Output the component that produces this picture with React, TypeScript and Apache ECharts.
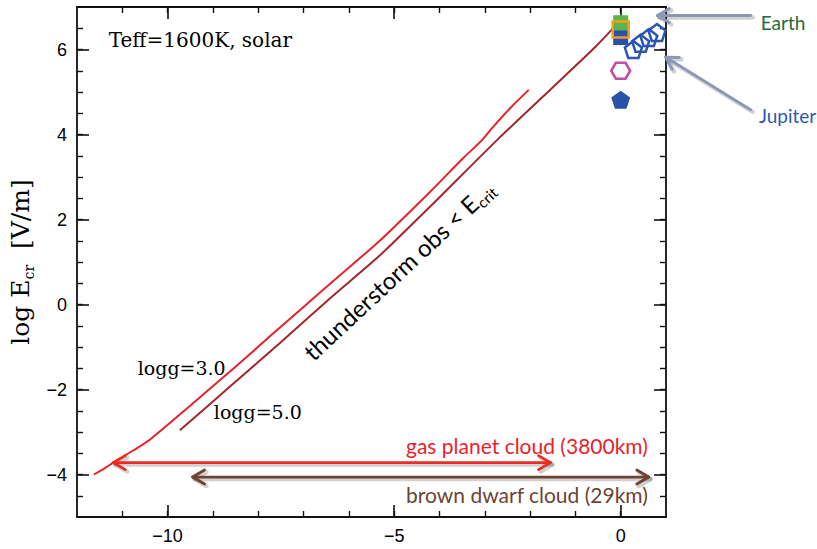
import React, { useEffect, useRef } from 'react';
import * as echarts from 'echarts';

// ---------- data ----------
const X_MIN = -12;
const X_MAX = 1;
const Y_MIN = -5;
const Y_MAX = 7;

const xMajorTicks = [-10, -5, 0];
const xMinorTicks = [-11, -10, -9, -8, -7, -6, -5, -4, -3, -2, -1, 0];
const yMajorTicks = [-4, -2, 0, 2, 4, 6];
const yMinorTicks = [-4.5, -4, -3.5, -3, -2.5, -2, -1.5, -1, -0.5, 0, 0.5, 1, 1.5, 2, 2.5, 3, 3.5, 4, 4.5, 5, 5.5, 6, 6.5];

// logg = 3.0 curve (bright red)
const logg3X = [-11.63, -11.4, -11.17, -10.75, -10.38, -9.49, -8.52, -7.68, -6.51, -5.30, -4.19, -3.49, -3.05, -2.83, -2.43, -2.03];
const logg3Y = [-4.0, -3.86, -3.7, -3.43, -3.17, -2.37, -1.48, -0.69, 0.4, 1.52, 2.67, 3.43, 3.88, 4.16, 4.63, 5.05];

// logg = 5.0 curve (dark red)
const logg5X = [-9.73, -8.61, -7.47, -6.4, -5.3, -4.19, -2.72, -1.32, -0.55, -0.15];
const logg5Y = [-2.96, -1.92, -0.86, 0.16, 1.17, 2.32, 3.88, 5.29, 6.07, 6.52];

// observed points
const earthBlueSquare = [[0, 6.28]];
const earthGreenSquare = [[0, 6.63]];
const earthOrangeSquare = [[0, 6.47]];
const jupiterPentagons = [[0.28, 6.0], [0.44, 6.15], [0.62, 6.28], [0.8, 6.4]];
const magentaHexagon = [[0, 5.5]];
const bluePentagon = [[0, 4.82]];

// cloud extents (x range, y level)
const gasCloudRange = [-11.2, -1.55];
const gasCloudLevel = -3.72;
const dwarfCloudRange = [-9.45, 0.62];
const dwarfCloudLevel = -4.06;

// ---------- styles ----------
const SERIF = '"DejaVu Serif", "Liberation Serif", serif';
const SANS = 'Lato, "Open Sans", sans-serif';
const NUM = '"Liberation Sans", Arial, sans-serif';
const INK = '#111';

const PENTAGON = 'path://M50,0 L98,35 L79,91 L21,91 L2,35 Z';
const HEXAGON = 'path://M0,50 L25,7 L75,7 L100,50 L75,93 L25,93 Z';

const minus = (v: number) => (v < 0 ? '\u2212' + Math.abs(v) : String(v));

function axisPair(kind: 'x' | 'y', position: string, showLabels: boolean, extra: any = {}) {
  const major = kind === 'x' ? xMajorTicks : yMajorTicks;
  const minor = kind === 'x' ? xMinorTicks : yMinorTicks;
  const base = {
    type: 'value',
    gridIndex: 0,
    min: kind === 'x' ? X_MIN : Y_MIN,
    max: kind === 'x' ? X_MAX : Y_MAX,
    position,
    splitLine: { show: false },
  };
  return [
    {
      ...base,
      ...extra,
      axisLine: { show: true, onZero: false, lineStyle: { color: INK, width: 1.8 } },
      axisTick: { show: true, inside: true, length: 12, customValues: major, lineStyle: { color: INK, width: 1.6 } },
      axisLabel: showLabels
        ? { show: true, customValues: major, formatter: minus, color: '#000', fontSize: 18, fontFamily: NUM, margin: 10 }
        : { show: false },
    },
    {
      ...base,
      axisLine: { show: false, onZero: false },
      axisTick: { show: true, inside: true, length: 6, customValues: minor, lineStyle: { color: INK, width: 1.4 } },
      axisLabel: { show: false },
    },
  ];
}

export default function App() {
  const ref = useRef<HTMLDivElement>(null);

  useEffect(() => {
    if (!ref.current) return;
    const chart = echarts.init(ref.current, undefined, { renderer: 'svg' });

    const option: any = {
      animation: false,
      backgroundColor: '#fff',
      grid: { left: 77, top: 7, width: 589, height: 510, show: false },
      xAxis: [...axisPair('x', 'bottom', true), ...axisPair('x', 'top', false)],
      yAxis: [
        ...axisPair('y', 'left', true, {
          name: '{a|log E}{s|cr}{a|  [V/m]}',
          nameLocation: 'middle',
          nameGap: 40,
          nameTextStyle: {
            color: '#000',
            rich: {
              a: { fontSize: 25, fontFamily: SERIF, color: '#000', lineHeight: 30 },
              s: { fontSize: 14, fontFamily: SERIF, color: '#000', lineHeight: 12, verticalAlign: 'bottom' },
            },
          },
        }),
        ...axisPair('y', 'right', false),
      ],
      series: [
        {
          type: 'line',
          name: 'logg=3.0',
          data: logg3X.map((x, i) => [x, logg3Y[i]]),
          showSymbol: false,
          smooth: 0.25,
          lineStyle: { color: '#e8222a', width: 2 },
          z: 3,
        },
        {
          type: 'line',
          name: 'logg=5.0',
          data: logg5X.map((x, i) => [x, logg5Y[i]]),
          showSymbol: false,
          smooth: 0.2,
          lineStyle: { color: '#a3262a', width: 2 },
          z: 3,
        },
        {
          type: 'scatter',
          data: earthBlueSquare,
          symbol: 'rect',
          symbolSize: 15,
          itemStyle: { color: '#2a52aa', opacity: 1 },
          z: 4,
        },
        {
          type: 'scatter',
          data: earthGreenSquare,
          symbol: 'rect',
          symbolSize: 15,
          itemStyle: { color: '#5cb54a', opacity: 1 },
          z: 5,
        },
        {
          type: 'scatter',
          data: earthOrangeSquare,
          symbol: 'rect',
          symbolSize: 16,
          itemStyle: { color: 'transparent', borderColor: '#f39c1d', borderWidth: 2.5, opacity: 1 },
          z: 6,
        },
        {
          type: 'scatter',
          data: jupiterPentagons,
          symbol: PENTAGON,
          symbolSize: 17,
          itemStyle: { color: 'transparent', borderColor: '#2a55b5', borderWidth: 2.5, opacity: 1 },
          z: 5,
        },
        {
          type: 'scatter',
          data: magentaHexagon,
          symbol: HEXAGON,
          symbolSize: [19, 16],
          itemStyle: { color: 'transparent', borderColor: '#c24fa6', borderWidth: 2.5, opacity: 1 },
          z: 5,
        },
        {
          type: 'scatter',
          data: bluePentagon,
          symbol: PENTAGON,
          symbolSize: [19, 18],
          itemStyle: { color: '#2a52aa', opacity: 1 },
          z: 5,
        },
      ],
    };
    chart.setOption(option);

    const px = (p: number[]) => chart.convertToPixel({ xAxisIndex: 0, yAxisIndex: 0 }, p) as number[];

    const arrow = (tail: number[], tip: number[], color: string, width: number, both: boolean, hl: number, hw: number) => {
      const a = px(tail);
      const b = px(tip);
      const dx = b[0] - a[0];
      const dy = b[1] - a[1];
      const len = Math.hypot(dx, dy);
      const ux = dx / len;
      const uy = dy / len;
      const nx = -uy;
      const ny = ux;
      const build = (off: number, stroke: string, lw: number, z: number) => {
        const style = { stroke, lineWidth: lw, lineCap: 'round', lineJoin: 'round', fill: null };
        const head = (t: number[], sx: number, sy: number) => ({
          type: 'polyline',
          silent: true,
          shape: {
            points: [
              [t[0] - sx * hl + nx * hw + off, t[1] - sy * hl + ny * hw + off],
              [t[0] + off, t[1] + off],
              [t[0] - sx * hl - nx * hw + off, t[1] - sy * hl - ny * hw + off],
            ],
          },
          style,
          z,
        });
        const els: any[] = [
          { type: 'line', silent: true, shape: { x1: a[0] + off, y1: a[1] + off, x2: b[0] + off, y2: b[1] + off }, style, z },
          head(b, ux, uy),
        ];
        if (both) els.push(head(a, -ux, -uy));
        return els;
      };
      return [...build(2, 'rgba(0,0,0,0.18)', width + 1.5, 9), ...build(0, color, width, 10)];
    };

    const text = (p: number[], t: string, fill: string, fontSize: number, fontFamily: string, align = 'left') => {
      const q = px(p);
      return {
        type: 'text',
        x: q[0],
        y: q[1],
        z: 11,
        style: { text: t, fill, fontSize, fontFamily, align, verticalAlign: 'middle' },
      };
    };

    const thunder = px([-4.9, 0.81]);

    const graphic: any[] = [
      ...arrow([gasCloudRange[0], gasCloudLevel], [gasCloudRange[1], gasCloudLevel], '#ee2a24', 2.8, true, 12, 7),
      ...arrow([dwarfCloudRange[0], dwarfCloudLevel], [dwarfCloudRange[1], dwarfCloudLevel], '#6e4330', 2.8, true, 12, 7),
      ...arrow([2.87, 6.8], [0.81, 6.8], '#8c96b9', 2.8, false, 12, 7),
      ...arrow([2.87, 4.58], [0.99, 5.82], '#8c96b9', 2.8, false, 12, 7),
      text([-11.3, 6.23], 'Teff=1600K, solar', '#000', 20, SERIF),
      text([-10.66, -1.5], 'logg=3.0', '#000', 19, SERIF),
      text([-8.98, -2.53], 'logg=5.0', '#000', 19, SERIF),
      text([0.6, -3.31], 'gas planet cloud (3800km)', '#e8222a', 21, SANS, 'right'),
      text([0.6, -4.46], 'brown dwarf cloud (29km)', '#6e4330', 21, SANS, 'right'),
      text([3.09, 6.64], 'Earth', '#1e6b3a', 19, SANS),
      text([3.05, 4.44], 'Jupiter', '#2b5aad', 19, SANS),
      {
        type: 'text',
        x: thunder[0],
        y: thunder[1],
        rotation: 0.75,
        z: 11,
        style: {
          text: '{a|thunderstorm obs < E}{s|crit}',
          align: 'center',
          verticalAlign: 'middle',
          rich: {
            a: { fontSize: 24, fontFamily: SANS, fill: '#000', lineHeight: 29 },
            s: { fontSize: 15, fontFamily: SANS, fill: '#000', lineHeight: 14, verticalAlign: 'bottom' },
          },
        },
      },
    ];
    chart.setOption({ graphic });

    return () => chart.dispose();
  }, []);

  return (
    <div
      ref={ref}
      style={{ position: 'absolute', left: 0, top: 0, width: 817, height: 549, background: '#fff' }}
    />
  );
}
